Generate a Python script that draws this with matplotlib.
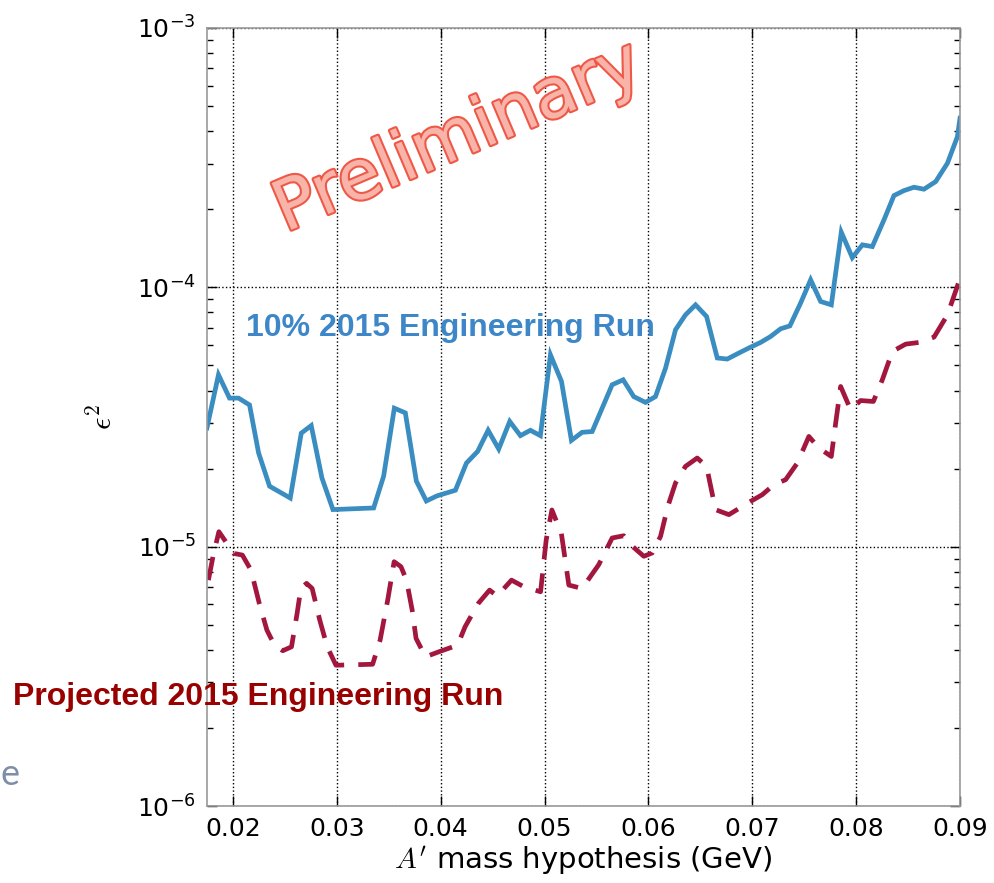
import matplotlib
matplotlib.use('Agg')
import matplotlib.pyplot as plt
import matplotlib.patheffects as pe
from matplotlib.ticker import LogLocator, NullFormatter

plt.rcParams['mathtext.fontset'] = 'cm'

# 10% 2015 engineering run reach (blue solid)
mass_10pct = [0.0175, 0.01861, 0.01967, 0.02054, 0.02160, 0.02247, 0.02353, 0.02552,
              0.02658, 0.02754, 0.02857, 0.02963, 0.03355, 0.03451, 0.03554, 0.03660,
              0.03766, 0.03862, 0.03965, 0.04142, 0.04248, 0.04356, 0.04457, 0.04559,
              0.04665, 0.04768, 0.04864, 0.04960, 0.05057, 0.05163, 0.05259, 0.05362,
              0.05459, 0.05651, 0.05757, 0.05859, 0.05972, 0.06068, 0.06165, 0.06261,
              0.06357, 0.06454, 0.06560, 0.06663, 0.06759, 0.06871, 0.06984, 0.07080,
              0.07176, 0.07273, 0.07362, 0.07465, 0.07562, 0.07658, 0.07761, 0.07857,
              0.07963, 0.08060, 0.08156, 0.08268, 0.08364, 0.08460, 0.08557, 0.08653,
              0.08766, 0.08879, 0.08975, 0.0900]
eps2_10pct = [2.87e-5, 4.60e-5, 3.74e-5, 3.74e-5, 3.52e-5, 2.30e-5, 1.71e-5, 1.54e-5,
              2.74e-5, 2.93e-5, 1.84e-5, 1.39e-5, 1.41e-5, 1.87e-5, 3.42e-5, 3.28e-5,
              1.79e-5, 1.50e-5, 1.57e-5, 1.65e-5, 2.10e-5, 2.33e-5, 2.81e-5, 2.38e-5,
              3.04e-5, 2.68e-5, 2.81e-5, 2.68e-5, 5.49e-5, 4.34e-5, 2.57e-5, 2.76e-5,
              2.78e-5, 4.21e-5, 4.40e-5, 3.79e-5, 3.60e-5, 3.79e-5, 4.88e-5, 6.86e-5,
              7.83e-5, 8.56e-5, 7.72e-5, 5.34e-5, 5.29e-5, 5.58e-5, 5.88e-5, 6.13e-5,
              6.46e-5, 6.92e-5, 7.10e-5, 8.69e-5, 1.069e-4, 8.82e-5, 8.56e-5, 1.632e-4,
              1.302e-4, 1.458e-4, 1.436e-4, 1.820e-4, 2.258e-4, 2.36e-4, 2.432e-4, 2.39e-4,
              2.557e-4, 3.01e-4, 3.81e-4, 4.49e-4]

# projected full 2015 engineering run (red dashed)
mass_proj = [0.01764, 0.01811, 0.01865, 0.02008, 0.02091, 0.02174, 0.02254, 0.02327,
             0.02400, 0.02480, 0.02564, 0.02618, 0.02654, 0.02709, 0.02763, 0.02836,
             0.02908, 0.02992, 0.03345, 0.03417, 0.03490, 0.03552, 0.03618, 0.03671,
             0.03726, 0.03763, 0.03854, 0.03981, 0.04163, 0.04235, 0.04362, 0.04471,
             0.04544, 0.04682, 0.04799, 0.04962, 0.05016, 0.05071, 0.05162, 0.05234,
             0.05361, 0.05522, 0.05651, 0.05763, 0.05828, 0.05956, 0.06037, 0.06117,
             0.06187, 0.06261, 0.06357, 0.06470, 0.06560, 0.06646, 0.06775, 0.06984,
             0.07096, 0.07208, 0.07321, 0.07434, 0.07545, 0.07642, 0.07761, 0.07803,
             0.07851, 0.07947, 0.08043, 0.08166, 0.08252, 0.08349, 0.08477, 0.08605,
             0.08750, 0.08879, 0.08990]
eps2_proj = [7.43e-6, 9.28e-6, 1.142e-5, 9.42e-6, 9.28e-6, 8.12e-6, 6.04e-6, 4.77e-6,
             4.17e-6, 3.97e-6, 4.11e-6, 5.53e-6, 6.90e-6, 7.22e-6, 6.90e-6, 5.21e-6,
             4.11e-6, 3.49e-6, 3.52e-6, 4.36e-6, 6.22e-6, 8.75e-6, 8.37e-6, 7.43e-6,
             5.69e-6, 4.43e-6, 3.76e-6, 3.93e-6, 4.17e-6, 4.91e-6, 6.04e-6, 6.80e-6,
             6.45e-6, 7.43e-6, 7.01e-6, 6.70e-6, 1.061e-5, 1.385e-5, 1.126e-5, 7.11e-6,
             6.90e-6, 8.52e-6, 1.080e-5, 1.102e-5, 1.018e-5, 9.18e-6, 9.46e-6, 1.096e-5,
             1.43e-5, 1.760e-5, 2.04e-5, 2.197e-5, 2.04e-5, 1.389e-5, 1.329e-5, 1.495e-5,
             1.586e-5, 1.733e-5, 1.812e-5, 2.101e-5, 2.661e-5, 2.40e-5, 2.228e-5, 2.997e-5,
             4.146e-5, 3.373e-5, 3.66e-5, 3.63e-5, 4.40e-5, 5.66e-5, 6.04e-5, 6.13e-5,
             6.43e-5, 7.83e-5, 1.053e-4]

xticks = [0.02, 0.03, 0.04, 0.05, 0.06, 0.07, 0.08, 0.09]

fig = plt.figure(figsize=(9.94, 8.83), dpi=100)
ax = fig.add_axes([0.2082, 0.0872, 0.7576, 0.8811])

ax.plot(mass_10pct, eps2_10pct, color='#3a8dc0', lw=3.4, solid_joinstyle='miter')
ax.plot(mass_proj, eps2_proj, color='#a3173f', lw=3.4, dashes=(5, 3))

ax.set_yscale('log')
ax.set_xlim(0.0175, 0.09)
ax.set_ylim(1e-6, 1e-3)
ax.set_xticks(xticks)
ax.set_xticklabels(['%.2f' % t for t in xticks])
ax.yaxis.set_minor_locator(LogLocator(base=10, subs=range(2, 10)))
ax.yaxis.set_minor_formatter(NullFormatter())

ax.grid(True, which='major', color='black', linestyle=':', linewidth=1.0)
ax.tick_params(which='both', direction='in', top=True, right=True, labelsize=18)
ax.tick_params(which='major', length=7, width=1, pad=8)
ax.tick_params(which='minor', length=4, width=1)
for s in ax.spines.values():
    s.set_color('#999999')
    s.set_linewidth(1.2)

ax.set_xlabel(r"$A'$ mass hypothesis (GeV)", fontsize=21, labelpad=2)
ax.set_ylabel(r'$\epsilon^2$', fontsize=22, labelpad=14)

fig.text(0.2475, 0.6285, '10% 2015 Engineering Run', color='#3d87c8',
         fontsize=23, fontweight='bold', family='Liberation Sans', ha='left', va='center')
fig.text(0.013, 0.2107, 'Projected 2015 Engineering Run', color='#990000',
         fontsize=23, fontweight='bold', family='Liberation Sans', ha='left', va='center')
fig.text(0.001, 0.123, 'e', color='#7d8fa8', fontsize=26, family='Lato',
         ha='left', va='center')

fig.text(0.461, 0.844, 'Preliminary', color='#f9b4aa', fontsize=50, rotation=23,
         ha='center', va='center', rotation_mode='anchor',
         path_effects=[pe.withStroke(linewidth=3, foreground='#ef5846')])

plt.savefig('out.png', dpi=100)
